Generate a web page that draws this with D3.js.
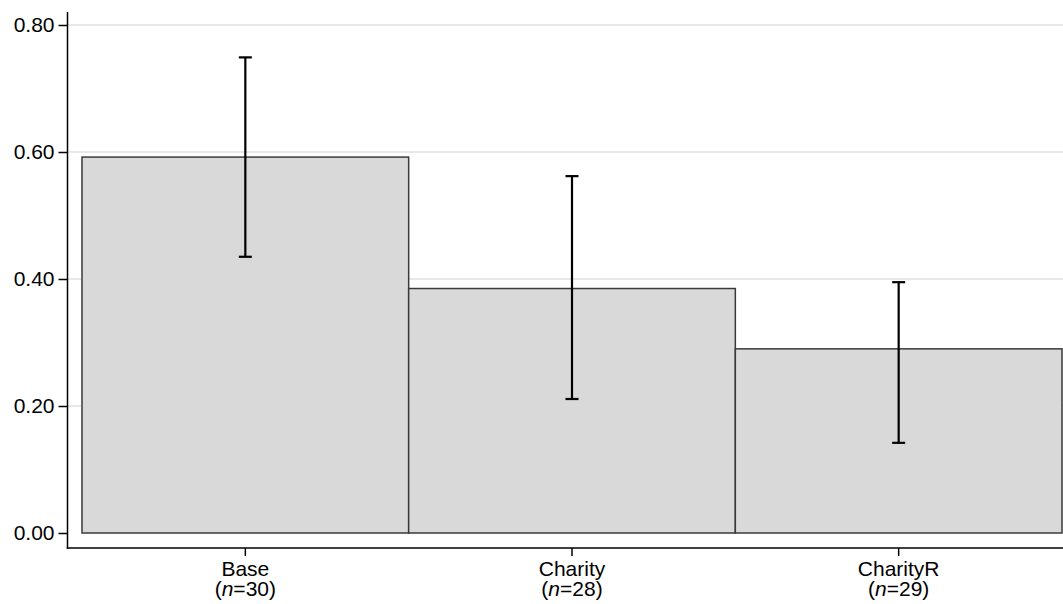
<!DOCTYPE html>
<html>
<head>
<meta charset="utf-8">
<script src="https://cdn.jsdelivr.net/npm/d3@7"></script>
<style>
  body { margin: 0; background: #fff; }
  text { font-family: "Liberation Sans", Arial, Helvetica, sans-serif; }
</style>
</head>
<body>
<div id="chart"></div>
<script>
// data
const groups = ["Base", "Charity", "CharityR"];
const counts = [30, 28, 29];
const means = [0.592, 0.385, 0.290];
const ciLow = [0.435, 0.211, 0.142];
const ciHigh = [0.749, 0.562, 0.395];
const yTicks = [0, 0.2, 0.4, 0.6, 0.8];

const width = 1063, height = 604;
const svg = d3.select("#chart").append("svg")
    .attr("width", width)
    .attr("height", height);

const axisX = 67.5;   // y axis line
const axisY = 548;    // x axis line
const fontSize = "21px";

let y = d3.scaleLinear().domain([0, 0.8]).range([533, 25]);
let x = d3.scaleBand().domain(groups).range([82, 1062]).padding(0);

// gridlines
svg.append("g").selectAll("line")
    .data(yTicks.slice(1)).enter()
    .append("line")
    .attr("x1", axisX)
    .attr("x2", width)
    .attr("y1", d => y(d))
    .attr("y2", d => y(d))
    .style("stroke", "#e1e1e1")
    .style("stroke-width", 1.5);

// bars
svg.append("g").selectAll("rect")
    .data(groups).enter()
    .append("rect")
    .attr("x", d => x(d))
    .attr("width", x.bandwidth())
    .attr("y", (d, i) => y(means[i]))
    .attr("height", (d, i) => y(0) - y(means[i]))
    .style("fill", "#d9d9d9")
    .style("stroke", "#3a3a3a")
    .style("stroke-width", 1.5);

// error bars
let err = svg.append("g").selectAll("g")
    .data(groups).enter()
    .append("g")
    .style("stroke", "#000")
    .style("stroke-width", 2.2);

err.append("line")
    .attr("x1", d => x(d) + x.bandwidth() / 2)
    .attr("x2", d => x(d) + x.bandwidth() / 2)
    .attr("y1", (d, i) => y(ciLow[i]))
    .attr("y2", (d, i) => y(ciHigh[i]));

[ciLow, ciHigh].forEach(arr => {
    err.append("line")
        .attr("x1", d => x(d) + x.bandwidth() / 2 - 6.5)
        .attr("x2", d => x(d) + x.bandwidth() / 2 + 6.5)
        .attr("y1", (d, i) => y(arr[i]))
        .attr("y2", (d, i) => y(arr[i]));
});

// y axis
let yAxis = d3.axisLeft(y)
    .tickValues(yTicks)
    .tickFormat(d3.format(".2f"))
    .tickSize(9)
    .tickPadding(4);
let gy = svg.append("g")
    .attr("transform", "translate(" + axisX + ",0)")
    .call(yAxis);
gy.select(".domain").remove();
gy.selectAll(".tick line").style("stroke", "#000").style("stroke-width", 1.5);
gy.selectAll(".tick text").style("font-size", fontSize).style("fill", "#000");

svg.append("line")
    .attr("x1", axisX).attr("x2", axisX)
    .attr("y1", 12).attr("y2", axisY + 0.75)
    .style("stroke", "#000").style("stroke-width", 1.5);

// x axis
svg.append("line")
    .attr("x1", axisX - 0.75).attr("x2", width)
    .attr("y1", axisY).attr("y2", axisY)
    .style("stroke", "#000").style("stroke-width", 1.5);

let xt = svg.append("g").selectAll("g")
    .data(groups).enter()
    .append("g")
    .attr("transform", d => "translate(" + (x(d) + x.bandwidth() / 2) + "," + axisY + ")");

xt.append("line")
    .attr("y1", 0).attr("y2", 8)
    .style("stroke", "#000").style("stroke-width", 1.5);

xt.append("text")
    .attr("y", 28)
    .attr("text-anchor", "middle")
    .style("font-size", fontSize)
    .text(d => d);

let nt = xt.append("text")
    .attr("y", 48)
    .attr("text-anchor", "middle")
    .style("font-size", fontSize);
nt.append("tspan").text("(");
nt.append("tspan").style("font-style", "italic").text("n");
nt.append("tspan").text((d, i) => "=" + counts[i] + ")");
</script>
</body>
</html>
